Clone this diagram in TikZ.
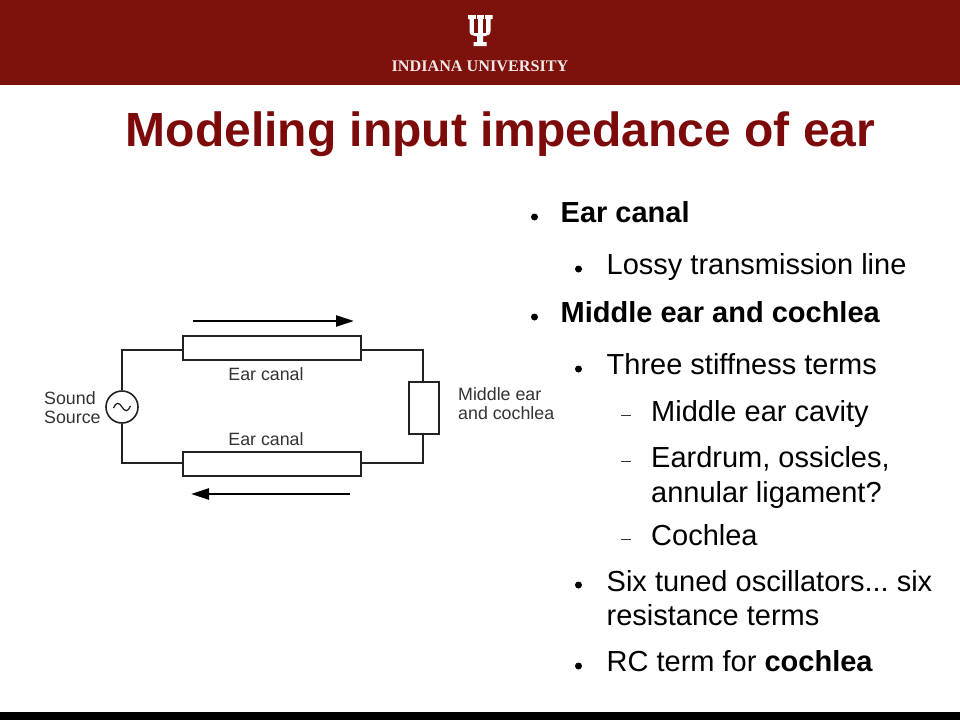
\documentclass[tikz,border=0pt]{standalone}
\usepackage{fontspec}
\setmainfont{Liberation Sans}
\newfontfamily\serifuni{Liberation Serif}
\usetikzlibrary{arrows.meta}
\definecolor{iured}{HTML}{7D120D}
\definecolor{titlered}{HTML}{7D0A0A}
\definecolor{wirec}{HTML}{222222}
\tikzset{
  x=1pt,y=-1pt,
  wire/.style={draw=wirec,line width=1.6pt},
  elem/.style={draw=wirec,line width=1.6pt,fill=white,minimum width=#1,inner sep=0pt},
  flow/.style={draw=black,line width=2.7pt,-{Triangle[length=18pt,width=11pt]}},
  clabel/.style={font=\fontsize{17.8}{19}\selectfont,text=black!80,inner sep=0pt,align=left},
  body/.style={font=\fontsize{29}{34.5}\selectfont\frenchspacing,anchor=base west,inner sep=0pt,align=left,text=black},
  dotb/.style={circle,fill=black,minimum size=7pt,inner sep=0pt},
  dashb/.style={fill=black!80,minimum width=10pt,minimum height=1pt,inner sep=0pt}
}
\begin{document}
\begin{tikzpicture}
\useasboundingbox (0,0) rectangle (960,720);
\fill[white] (0,0) rectangle (960,720);
\fill[iured] (0,0) rectangle (960,85);
\fill[black] (0,712) rectangle (960,720);
% trident logo
\fill[white] (468,15) -- (492.7,15) -- (492.7,19) -- (490.5,19) -- (490.5,31) .. controls (490.5,34.5) and (488,36) .. (485,36) -- (483,36) -- (483,42) -- (486.5,42) -- (486.5,46) -- (473.5,46) -- (473.5,42) -- (477,42) -- (477,36) -- (475,36) .. controls (472,36) and (469.5,34.5) .. (469.5,31) -- (469.5,19) -- (468,19) -- cycle;
\fill[iured] (474.3,19) rectangle (477.6,33);
\fill[iured] (482.6,19) rectangle (486,33);
\fill[iured] (475.6,15) rectangle (476.2,19);
\fill[iured] (484,15) rectangle (484.6,19);
\node[font=\serifuni\bfseries\fontsize{16.2}{18}\selectfont,text=white!90!iured,inner sep=0pt] (uni) at (480,66.5) {INDIANA UNIVERSITY};
% title
\node[font=\bfseries\fontsize{48}{50}\selectfont,text=titlered,anchor=base,inner sep=0pt] (title) at (500.5,146.5) {Modeling input impedance of ear};
% circuit
\node[elem=178pt,minimum height=24pt] (c1) at (272,348) {};
\node[elem=178pt,minimum height=24pt] (c2) at (272,464) {};
\node[elem=30pt,minimum height=52pt] (m) at (424,408) {};
\node[draw=wirec,line width=1.6pt,circle,minimum size=32pt,inner sep=0pt,fill=white] (src) at (122,407) {};
\draw[wirec,line width=1.3pt] (113.5,408) .. controls (116,402) and (119,402) .. (122,407) .. controls (125,412) and (128,412) .. (130.5,406);
\coordinate (tl) at (122,350);
\coordinate (bl) at (122,463);
\coordinate (tr) at (423,350);
\coordinate (br) at (423,463);
\draw[wire] (src.north) -- (tl) -- (c1.west |- tl);
\draw[wire] (src.south) -- (bl) -- (c2.west |- bl);
\draw[wire] (c1.east |- tr) -- (tr) -- (m.north -| tr);
\draw[wire] (c2.east |- br) -- (br) -- (m.south -| br);
\coordinate (a1) at (193,321);
\coordinate (a2) at (354,321);
\coordinate (b1) at (350,494);
\coordinate (b2) at (191,494);
\draw[flow] (a1) -- (a2);
\draw[flow] (b1) -- (b2);
\node[clabel,anchor=center] (l1) at (266,374.5) {Ear canal};
\node[clabel,anchor=center] (l2) at (266,439.5) {Ear canal};
\node[clabel,anchor=west] (ls) at (44,408) {Sound\\Source};
\node[clabel,anchor=west] (lm) at (458,404) {Middle ear\\and cochlea};
% bullets
\node[dotb] (d1) at (534.5,217) {};
\node[body] (t1) at (560.5,222) {\textbf{Ear canal}};
\node[dotb] (d2) at (578.5,269) {};
\node[body] (t2) at (606.5,274) {Lossy transmission line};
\node[dotb] (d3) at (534.5,317) {};
\node[body] (t3) at (560.5,322) {\textbf{Middle ear and cochlea}};
\node[dotb] (d4) at (578.5,369) {};
\node[body] (t4) at (606.5,374) {Three stiffness terms};
\node[dashb] (d5) at (626,415) {};
\node[body] (t5) at (651,421) {Middle ear cavity};
\node[dashb] (d6) at (626,461) {};
\node[body,anchor=north west] (t6) at (651,446.5) {Eardrum, ossicles,\\annular ligament?};
\node[dashb] (d7) at (626,539) {};
\node[body] (t7) at (651,545) {Cochlea};
\node[dotb] (d8) at (578.5,585) {};
\node[body,anchor=north west] (t8) at (606.5,570) {Six tuned oscillators... six\\resistance terms};
\node[dotb] (d9) at (578.5,666) {};
\node[body] (t9) at (606.5,671) {RC term for \textbf{cochlea}};
\end{tikzpicture}
\end{document}
